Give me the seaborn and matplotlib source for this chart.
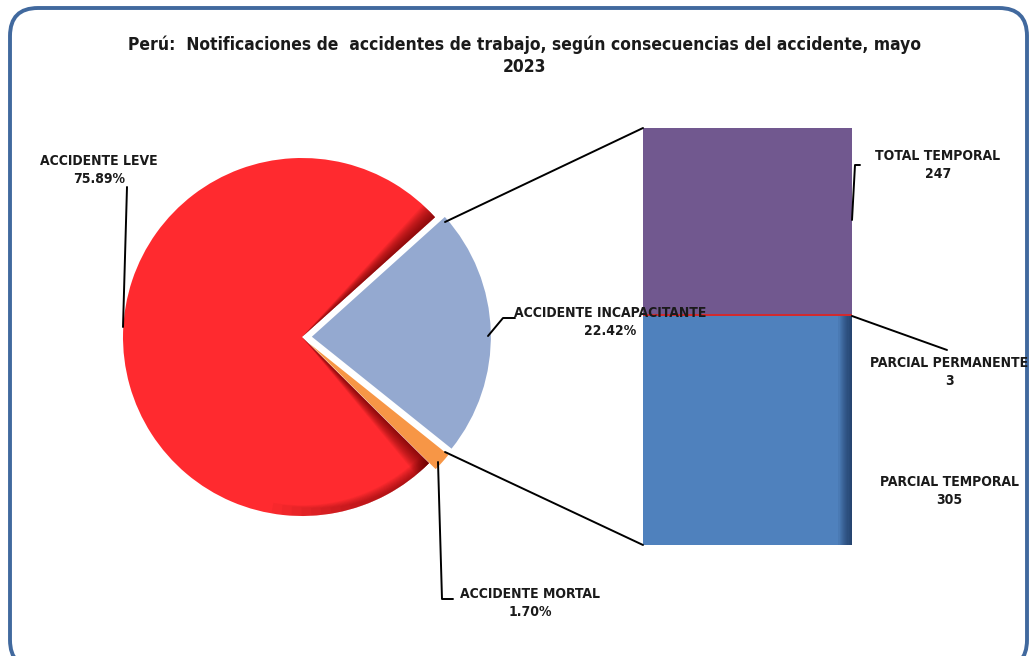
import matplotlib
matplotlib.use("Agg")
import matplotlib.pyplot as plt
import seaborn as sns
import pandas as pd
import numpy as np
from matplotlib.patches import FancyBboxPatch, Wedge, Rectangle

sns.set_theme(style="white")
plt.rcParams["font.family"] = ["DejaVu Sans"]
plt.rcParams["font.stretch"] = "condensed"

# ---- data ----
title = "Perú:  Notificaciones de  accidentes de trabajo, según consecuencias del accidente, mayo\n2023"
pie_labels = ["ACCIDENTE INCAPACITANTE", "ACCIDENTE MORTAL", "ACCIDENTE LEVE"]
pie_values = [22.42, 1.70, 75.89]
bar_labels = ["PARCIAL TEMPORAL", "PARCIAL PERMANENTE", "TOTAL TEMPORAL"]
bar_values = [305, 3, 247]

pie_colors = ["#94A9D0", "#F79646", "#FF2A2F"]
bar_colors = ["#4F81BD", "#D02A2F", "#71588F"]

W, H = 1031, 656
fig = plt.figure(figsize=(W / 100, H / 100), dpi=100)
fig.patch.set_facecolor("white")

# border
bg = fig.add_axes([0, 0, 1, 1])
bg.set_xlim(0, W); bg.set_ylim(H, 0); bg.axis("off")
bg.add_patch(FancyBboxPatch((10, 8), 1017, 660, boxstyle="round,pad=0,rounding_size=28",
                            fc="white", ec="#41699E", lw=2.8))

# pie
cx, cy, r = 302, 337, 179
half = 1.3 * r
pax = fig.add_axes([(cx - half) / W, (H - cy - half) / H, 2 * half / W, 2 * half / H])
wedges, _ = pax.pie(pie_values, colors=pie_colors, startangle=42, counterclock=False,
                    explode=[0.055, 0.05, 0], wedgeprops=dict(edgecolor="none"))
pax.set_xlim(-1.3, 1.3); pax.set_ylim(-1.3, 1.3); pax.set_aspect("equal"); pax.axis("off")

# bevel shading on the large wedge (along its cut edges and lower-right rim)
lw_ = wedges[2]
c0 = lw_.center
t1, t2 = lw_.theta1, lw_.theta2
n = 14
for i in range(n):
    f = 1 - i / n
    d = 5.5 * f
    pax.add_patch(Wedge(c0, 1.0, t1, t1 + d, facecolor="#5a0000", alpha=0.07, edgecolor="none", zorder=3))
    pax.add_patch(Wedge(c0, 1.0, t2 - d, t2, facecolor="#5a0000", alpha=0.07, edgecolor="none", zorder=3))
    pax.add_patch(Wedge(c0, 1.0, t2 - 10 - 45 * f, t2, width=0.06 * f, facecolor="#5a0000",
                        alpha=0.045, edgecolor="none", zorder=3))

# stacked bar
bx0, bx1, by0, by1 = 643, 852, 128, 545
bax = fig.add_axes([bx0 / W, (H - by1) / H, (bx1 - bx0) / W, (by1 - by0) / H])
bottom = 0
for lab, val, col in zip(bar_labels, bar_values, bar_colors):
    df = pd.DataFrame({"g": ["b"], "v": [val]})
    sns.barplot(data=df, x="g", y="v", color=col, width=1.0, bottom=bottom,
                ax=bax, saturation=1, edgecolor="none", linewidth=0)
    bottom += val
bax.set_xlim(-0.5, 0.5); bax.set_ylim(0, sum(bar_values)); bax.axis("off")
# right-edge shading on the lower bar segment
for i in range(12):
    x0 = 0.5 - 0.065 * (1 - i / 12)
    bax.add_patch(Rectangle((x0, 0), 0.5 - x0, bar_values[0], facecolor="#0d2040",
                            alpha=0.07, edgecolor="none", zorder=5))

# overlay annotations
ov = fig.add_axes([0, 0, 1, 1])
ov.set_xlim(0, W); ov.set_ylim(H, 0); ov.axis("off")
tk = dict(fontsize=10, fontweight="bold", fontstretch="condensed", color="#1a1a1a",
          ha="center", va="center", linespacing=1.35)

ov.text(524, 56, title, fontsize=12.5, fontweight="bold", fontstretch="condensed",
        color="#1a1a1a", ha="center", va="center", linespacing=1.3)

lc = dict(color="black", lw=1.4)
# connectors pie -> bar
ov.plot([445, bx0], [222, by0], **lc)
ov.plot([445, bx0], [452, by1], **lc)

# Leve
ov.plot([123, 127], [327, 187], **lc)
ov.text(99, 170, f"{pie_labels[2]}\n{pie_values[2]:.2f}%", **tk)
# Incapacitante
ov.plot([488, 503, 515], [336, 318, 318], **lc)
ov.text(610, 322, f"{pie_labels[0]}\n{pie_values[0]:.2f}%", **tk)
# Mortal
ov.plot([438, 442, 453], [462, 599, 599], **lc)
ov.text(530, 603, f"{pie_labels[1]}\n{pie_values[1]:.2f}%", **tk)

# bar labels
ov.plot([852, 855, 860], [220, 165, 165], **lc)
ov.text(938, 165, f"{bar_labels[2]}\n{bar_values[2]}", **tk)
ov.plot([852, 947], [316, 350], **lc)
ov.text(949, 372, f"{bar_labels[1]}\n{bar_values[1]}", **tk)
ov.text(949, 491, f"{bar_labels[0]}\n{bar_values[0]}", **tk)

fig.savefig("out.png", dpi=100, facecolor="white")
